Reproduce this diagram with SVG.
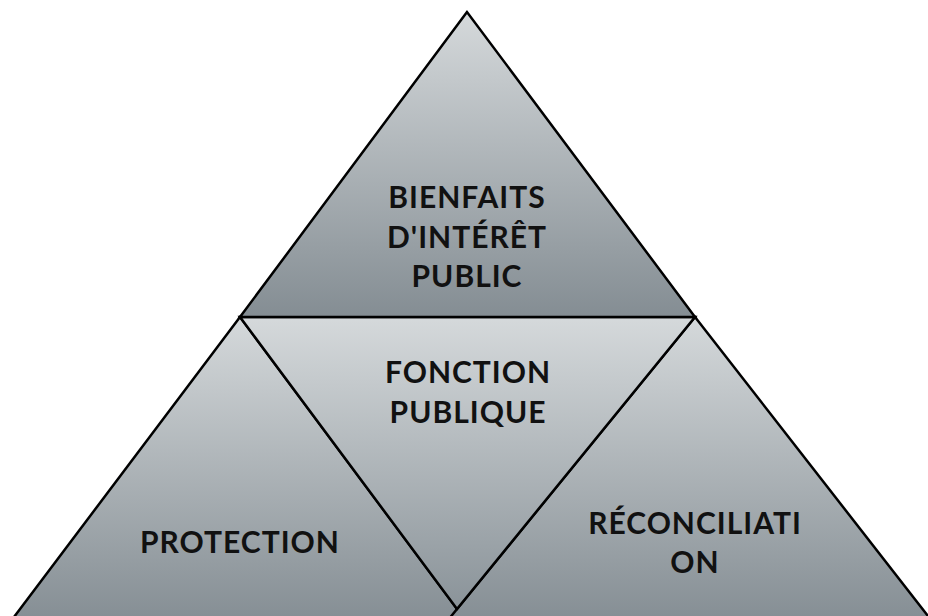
<svg xmlns="http://www.w3.org/2000/svg" width="928" height="616" viewBox="0 0 928 616">
  <defs>
    <linearGradient id="g" x1="0" y1="0" x2="0" y2="1">
      <stop offset="0" stop-color="#d5d9db"/>
      <stop offset="1" stop-color="#848d93"/>
    </linearGradient>
    <linearGradient id="gm" x1="0" y1="0" x2="0" y2="1">
      <stop offset="0" stop-color="#d5d9db"/>
      <stop offset="1" stop-color="#8a9399"/>
    </linearGradient>
    <style>
      .tri { fill: url(#g); stroke: #000; stroke-width: 2.5; stroke-linejoin: miter; }
      .lbl { font-family: Lato, "Open Sans", "Liberation Sans", sans-serif; font-weight: 700; font-size: 30px; letter-spacing: 1px; fill: #111; text-anchor: middle; }
    </style>
  </defs>
  <rect width="928" height="616" fill="#ffffff"/>
  <g id="node-protection">
    <polygon class="tri" points="240,317 8,625 469,625"/>
    <text class="lbl" x="240" y="553">PROTECTION</text>
  </g>
  <g id="node-reconciliation">
    <polygon class="tri" points="695,317 444,625 935,625"/>
    <text class="lbl" x="695" y="534">RÉCONCILIATI</text>
    <text class="lbl" x="695" y="573">ON</text>
  </g>
  <g id="node-fonction-publique">
    <polygon class="tri" style="fill:url(#gm)" points="240,317 695,317 457,609"/>
    <text class="lbl" x="468" y="383">FONCTION</text>
    <text class="lbl" x="468" y="423">PUBLIQUE</text>
  </g>
  <g id="node-bienfaits">
    <polygon class="tri" points="467,12 240,317 695,317"/>
    <text class="lbl" x="467" y="208">BIENFAITS</text>
    <text class="lbl" x="467" y="247.5">D'INTÉRÊT</text>
    <text class="lbl" x="467" y="287">PUBLIC</text>
  </g>
  <g id="connectors"></g>
</svg>
